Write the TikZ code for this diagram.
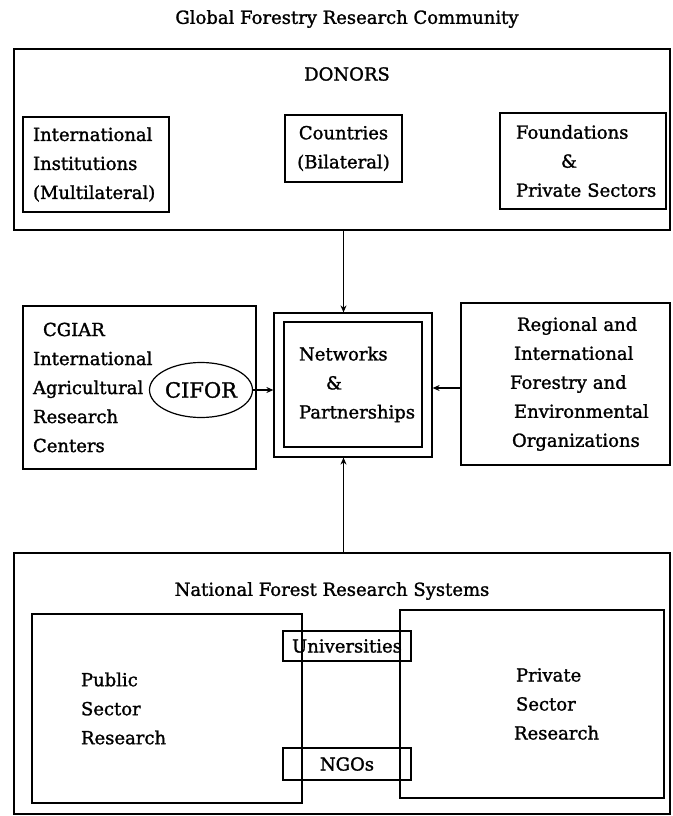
\documentclass[tikz,border=0pt]{standalone}
\usepackage{fontspec}
\setmainfont{DejaVu Serif}[FakeBold=1.4]
\usetikzlibrary{arrows.meta,shapes.geometric}

\begin{document}
\begin{tikzpicture}[x=1pt,y=-1pt,line width=1.2pt]
    \tikzset{box/.style 2 args={draw, rectangle, minimum width=#1, minimum height=#2, inner sep=0pt},
             txt/.style={font=\fontsize{18}{29}\selectfont},
             arr/.style={-{Stealth[length=7pt,width=6pt]}}};
    \useasboundingbox (0,0) rectangle (672,816);

    \node[txt] (title) at (347,19) {Global Forestry Research Community};

    % donors
    \node[box={656}{181}] (donors) at (342,139.5) {};
    \node[txt] (donorstitle) at (347,74) {DONORS};
    \node[box={146}{95}, txt, align=left, text width=126] (intl) at (96,164.5) {International\\Institutions\\(Multilateral)};
    \node[box={117}{67}, txt, align=center] (countries) at (343.5,148.5) {Countries\\(Bilateral)};
    \node[box={166}{96}, txt, align=left, text width=162] (found) at (583,161) {\hspace*{14pt}Foundations\\\hspace*{59pt}\&\\\hspace*{14pt}Private Sectors};

    % middle row
    \node[box={233}{163}, txt, align=left, text width=213] (cgiar) at (139.5,387.5) {\hspace*{10pt}CGIAR\\International\\Agricultural\\Research\\Centers};
    \node[draw, ellipse, minimum width=103, minimum height=55, inner sep=0pt, font=\fontsize{21}{25}\selectfont] (cifor) at (201,390) {CIFOR};
    \node[box={158}{144}] (netframe) at (353,385) {};
    \node[box={138}{125}, txt, align=left, text width=130] (net) at (353,384.5) {\hspace*{11pt}Networks\\\hspace*{38pt}\&\\\hspace*{11pt}Partnerships};
    \node[box={209}{162}, txt, align=left, text width=189] (regional) at (565.5,384) {\hspace*{46pt}Regional and\\\hspace*{43pt}International\\\hspace*{39pt}Forestry and\\\hspace*{43pt}Environmental\\\hspace*{41pt}Organizations};

    % national systems
    \node[box={656}{261}] (nfrs) at (342,683.5) {};
    \node[txt] (nfrstitle) at (332,591) {National Forest Research Systems};
    \node[box={270}{189}, txt, align=left, text width=250] (public) at (167,708.5) {\hspace*{39pt}Public\\\hspace*{39pt}Sector\\\hspace*{39pt}Research};
    \node[box={264}{188}, txt, align=left, text width=244] (private) at (532,704) {\hspace*{106pt}Private\\\hspace*{106pt}Sector\\\hspace*{104pt}Research};
    \node[box={128}{30}, txt] (univ) at (347,646) {Universities};
    \node[box={128}{32}, txt] (ngo) at (347,764) {NGOs};

    \draw[arr] (donors.south -| countries.center) -- (countries.center |- netframe.north);
    \draw[arr] (nfrs.north -| countries.center) -- (countries.center |- netframe.south);
    \draw[arr] (cifor.east) -- (cifor.east -| netframe.west);
    \draw[arr] ([yshift=-4pt]regional.west) -- ([yshift=-4pt]regional.west -| netframe.east);
\end{tikzpicture}
\end{document}
